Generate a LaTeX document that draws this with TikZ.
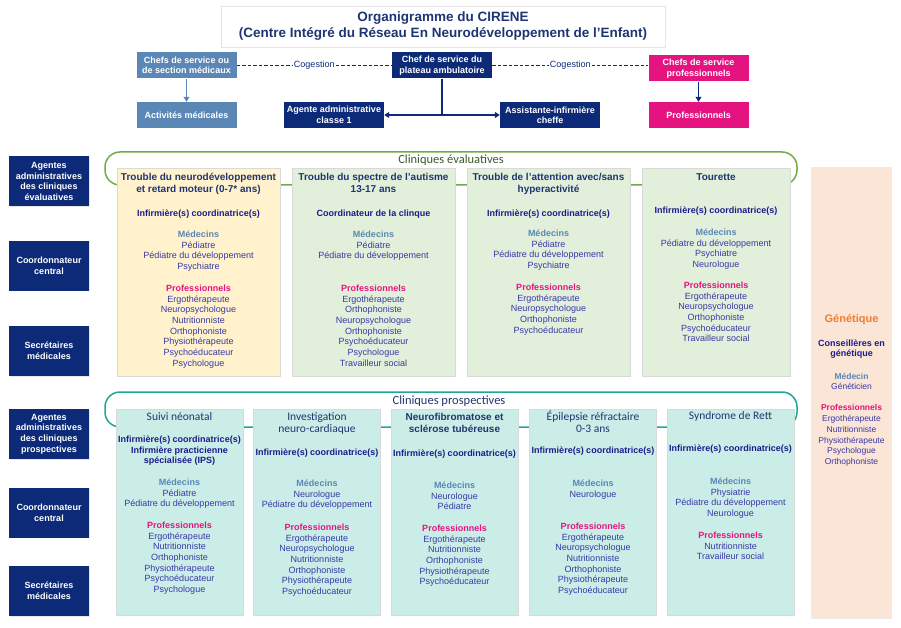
\documentclass[tikz,border=0pt]{standalone}
\usepackage{fontspec}
\setmainfont{Liberation Sans}
\newfontfamily\calibfont{Carlito}
\usetikzlibrary{arrows.meta,shadows}

\definecolor{navybox}{HTML}{0D2A78}
\definecolor{steelbox}{HTML}{5A87B5}
\definecolor{magbox}{HTML}{E5137F}
\definecolor{titletext}{HTML}{1F3573}
\definecolor{headtext}{HTML}{1B1B8C}
\definecolor{itemtext}{HTML}{3838A6}
\definecolor{medtext}{HTML}{5A87B5}
\definecolor{protext}{HTML}{E5137F}
\definecolor{gentext}{HTML}{F07D35}
\definecolor{evalgreen}{HTML}{70AD47}
\definecolor{evallabel}{HTML}{3A5A2B}
\definecolor{prosteal}{HTML}{1FA696}
\definecolor{yellowfill}{HTML}{FFF2CC}
\definecolor{greenfill}{HTML}{E2EFDA}
\definecolor{tealfill}{HTML}{CBEDE7}
\definecolor{peachfill}{HTML}{FBE5D6}

\newcommand{\medhd}[1]{\textcolor{medtext}{\bfseries #1}}
\newcommand{\prohd}{\textcolor{protext}{\bfseries Professionnels}}

\begin{document}
\begin{tikzpicture}[
  x=1pt, y=-1pt,
  titlebox/.style={rectangle, draw=black!10, align=center, text=titletext,
    font=\bfseries\fontsize{13.5}{16}\selectfont, minimum width=444pt, minimum height=41pt},
  topbox/.style={rectangle, inner sep=1pt, align=center, text=white,
    font=\bfseries\fontsize{9}{10.5}\selectfont, minimum width=100pt, minimum height=26pt},
  sidebox/.style={rectangle, fill=navybox, inner sep=1pt, align=center, text=white,
    font=\bfseries\fontsize{9}{10.7}\selectfont, minimum width=80pt, minimum height=50pt,
    drop shadow={opacity=0.2, shadow xshift=0.8pt, shadow yshift=-0.8pt}},
  clinic/.style={rectangle, draw=black!15, inner sep=0pt,
    drop shadow={opacity=0.2, shadow xshift=0.8pt, shadow yshift=-0.8pt}},
  ctitle/.style={anchor=north, inner sep=0pt, align=center, text=titletext,
    font=\bfseries\fontsize{10}{12}\selectfont},
  ctitlec/.style={anchor=north, inner sep=0pt, align=center, text=titletext,
    font=\calibfont\fontsize{11.5}{12}\selectfont},
  chead/.style={anchor=north, inner sep=0pt, align=center, text=headtext,
    font=\bfseries\fontsize{9}{10.7}\selectfont},
  clist/.style={anchor=north, inner sep=0pt, align=center, text=itemtext,
    font=\fontsize{9}{10.7}\selectfont},
  cogest/.style={navybox, dashed, dash pattern=on 3.5pt off 2pt, line width=0.8pt},
  coglabel/.style={fill=white, inner sep=1pt, text=navybox, font=\fontsize{9}{10}\selectfont}
]
  \useasboundingbox (0,0) rectangle (901,628);

  % En-tete
  \node[titlebox] (title) at (443,26.5)
    {Organigramme du CIRENE\\(Centre Intégré du Réseau En Neurodéveloppement de l’Enfant)};

  \node[topbox, fill=steelbox] (chefmed) at (186.5,65.5) {Chefs de service ou\\de section médicaux};
  \node[topbox, fill=navybox] (chefplat) at (442,65.5) {Chef de service du\\plateau ambulatoire};
  \node[topbox, fill=magbox] (chefpro) at (698.5,68.5) {Chefs de service\\professionnels};
  \node[topbox, fill=steelbox] (actmed) at (186.5,115) {Activités médicales};
  \node[topbox, fill=navybox] (agente) at (334,115) {Agente administrative\\classe 1};
  \node[topbox, fill=navybox] (assist) at (550,115) {Assistante-infirmière\\cheffe};
  \node[topbox, fill=magbox] (profs) at (698.5,115) {Professionnels};

  \draw[cogest] (chefmed.east) -- node[coglabel] {Cogestion} (chefplat.west);
  \draw[cogest] (chefplat.east) -- node[coglabel] {Cogestion} (chefplat.east -| chefpro.west);
  \draw[steelbox, line width=1pt, -{Triangle[width=6pt, length=5pt]}] (chefmed) -- (actmed);
  \draw[navybox, line width=1pt, -{Triangle[width=6pt, length=5pt]}] (chefpro) -- (profs);
  \draw[navybox, line width=1.2pt] (chefplat.south) -- (chefplat.south |- agente.east);
  \draw[navybox, line width=1.5pt, {Triangle[width=6pt, length=5pt]}-{Triangle[width=6pt, length=5pt]}]
    (agente.east) -- (assist.west);

  % Colonne de gauche
  \foreach \nm/\yc/\txt in {agenteval/181.5/{Agentes\\administratives\\des cliniques\\évaluatives},
      coordeval/265.5/{Coordonnateur\\central}, secreval/351/{Secrétaires\\médicales},
      agentpros/434/{Agentes\\administratives\\des cliniques\\prospectives},
      coordpros/512.5/{Coordonnateur\\central}, secrpros/591/{Secrétaires\\médicales}} {
    \node[sidebox] (\nm) at (49,\yc) {\txt};
  }

  % Cadres des cliniques
  \draw[evalgreen, line width=1.5pt, rounded corners=15pt] (105,152) rectangle (797,185);
  \node[text=evallabel, font=\calibfont\fontsize{12.5}{14}\selectfont] (evallbl) at (451,160) {Cliniques évaluatives};
  \draw[prosteal, line width=1.5pt, rounded corners=15pt] (105,392) rectangle (797,427);
  \node[text=titletext, font=\calibfont\fontsize{12.5}{14}\selectfont] (proslbl) at (449,401) {Cliniques prospectives};

  % Cliniques evaluatives
  \node[clinic, fill=yellowfill, minimum width=163pt, minimum height=208pt] (e1) at (198.5,272) {};
  \node[clinic, fill=greenfill, minimum width=163pt, minimum height=208pt] (e2) at (373.5,272) {};
  \node[clinic, fill=greenfill, minimum width=163pt, minimum height=208pt] (e3) at (548.5,272) {};
  \node[clinic, fill=greenfill, minimum width=148pt, minimum height=208pt] (e4) at (716,272) {};
  \node[clinic, fill=peachfill, draw=black!8, minimum width=80pt, minimum height=451pt] (gen) at (851.5,393) {};

  \node[ctitle] (e1title) at (198.5,173.3) {Trouble du neurodéveloppement\\et retard moteur (0-7* ans)};
  \node[chead] (e1head) at (198.5,209.6) {Infirmière(s) coordinatrice(s)};
  \node[clist] (e1med) at (198.5,230.6) {\medhd{Médecins}\\Pédiatre\\Pédiatre du développement\\Psychiatre};
  \node[clist] (e1pro) at (198.5,284.6) {\prohd\\Ergothérapeute\\Neuropsychologue\\Nutritionniste\\Orthophoniste\\Physiothérapeute\\Psychoéducateur\\Psychologue};

  \node[ctitle] (e2title) at (373.5,173.3) {Trouble du spectre de l’autisme\\13-17 ans};
  \node[chead] (e2head) at (373.5,209.6) {Coordinateur de la clinque};
  \node[clist] (e2med) at (373.5,230.6) {\medhd{Médecins}\\Pédiatre\\Pédiatre du développement};
  \node[clist] (e2pro) at (373.5,284.6) {\prohd\\Ergothérapeute\\Orthophoniste\\Neuropsychologue\\Orthophoniste\\Psychoéducateur\\Psychologue\\Travailleur social};

  \node[ctitle] (e3title) at (548.5,173.3) {Trouble de l’attention avec/sans\\hyperactivité};
  \node[chead] (e3head) at (548.5,209.6) {Infirmière(s) coordinatrice(s)};
  \node[clist] (e3med) at (548.5,229.6) {\medhd{Médecins}\\Pédiatre\\Pédiatre du développement\\Psychiatre};
  \node[clist] (e3pro) at (548.5,283.6) {\prohd\\Ergothérapeute\\Neuropsychologue\\Orthophoniste\\Psychoéducateur};

  \node[ctitle] (e4title) at (716,173.3) {Tourette};
  \node[chead] (e4head) at (716,206.6) {Infirmière(s) coordinatrice(s)};
  \node[clist] (e4med) at (716,228.6) {\medhd{Médecins}\\Pédiatre du développement\\Psychiatre\\Neurologue};
  \node[clist] (e4pro) at (716,281.6) {\prohd\\Ergothérapeute\\Neuropsychologue\\Orthophoniste\\Psychoéducateur\\Travailleur social};

  % Genetique
  \node[anchor=north, inner sep=0pt, text=gentext, font=\bfseries\fontsize{11}{13}\selectfont] (gentitle) at (851.5,313.9) {Génétique};
  \node[chead, font=\bfseries\fontsize{9}{10.5}\selectfont] (genhead) at (851.5,339.6) {Conseillères en\\génétique};
  \node[clist, font=\fontsize{8.5}{10.7}\selectfont] (genmed) at (851.5,372.6) {\medhd{Médecin}\\Généticien};
  \node[clist, font=\fontsize{8.5}{10.7}\selectfont] (genpro) at (851.5,404.6) {\prohd\\Ergothérapeute\\Nutritionniste\\Physiothérapeute\\Psychologue\\Orthophoniste};

  % Cliniques prospectives
  \foreach \nm/\xc in {p1/179.5, p2/317, p3/454.5, p4/593, p5/730.5} {
    \node[clinic, fill=tealfill, minimum width=127pt, minimum height=206pt] (\nm) at (\xc,512) {};
  }

  \node[ctitlec] (p1title) at (179.5,412.7) {Suivi néonatal};
  \node[chead] (p1head) at (179.5,435.6) {Infirmière(s) coordinatrice(s)\\Infirmière practicienne\\spécialisée (IPS)};
  \node[clist] (p1med) at (179.5,478.6) {\medhd{Médecins}\\Pédiatre\\Pédiatre du développement};
  \node[clist] (p1pro) at (179.5,521.6) {\prohd\\Ergothérapeute\\Nutritionniste\\Orthophoniste\\Physiothérapeute\\Psychoéducateur\\Psychologue};

  \node[ctitlec] (p2title) at (317,412.7) {Investigation\\neuro-cardiaque};
  \node[chead] (p2head) at (317,448.6) {Infirmière(s) coordinatrice(s)};
  \node[clist] (p2med) at (317,479.6) {\medhd{Médecins}\\Neurologue\\Pédiatre du développement};
  \node[clist] (p2pro) at (317,523.6) {\prohd\\Ergothérapeute\\Neuropsychologue\\Nutritionniste\\Orthophoniste\\Physiothérapeute\\Psychoéducateur};

  \node[ctitle] (p3title) at (454.5,413.3) {Neurofibromatose et\\sclérose tubéreuse};
  \node[chead] (p3head) at (454.5,449.6) {Infirmière(s) coordinatrice(s)};
  \node[clist] (p3med) at (454.5,481.6) {\medhd{Médecins}\\Neurologue\\Pédiatre};
  \node[clist] (p3pro) at (454.5,524.6) {\prohd\\Ergothérapeute\\Nutritionniste\\Orthophoniste\\Physiothérapeute\\Psychoéducateur};

  \node[ctitlec] (p4title) at (593,410.3) {Épilepsie réfractaire\\0-3 ans};
  \node[chead] (p4head) at (593,446.6) {Infirmière(s) coordinatrice(s)};
  \node[clist] (p4med) at (593,479.6) {\medhd{Médecins}\\Neurologue};
  \node[clist] (p4pro) at (593,522.6) {\prohd\\Ergothérapeute\\Neuropsychologue\\Nutritionniste\\Orthophoniste\\Physiothérapeute\\Psychoéducateur};

  \node[ctitlec] (p5title) at (730.5,411.7) {Syndrome de Rett};
  \node[chead] (p5head) at (730.5,444.6) {Infirmière(s) coordinatrice(s)};
  \node[clist] (p5med) at (730.5,477.6) {\medhd{Médecins}\\Physiatrie\\Pédiatre du développement\\Neurologue};
  \node[clist] (p5pro) at (730.5,531.6) {\prohd\\Nutritionniste\\Travailleur social};
\end{tikzpicture}
\end{document}
